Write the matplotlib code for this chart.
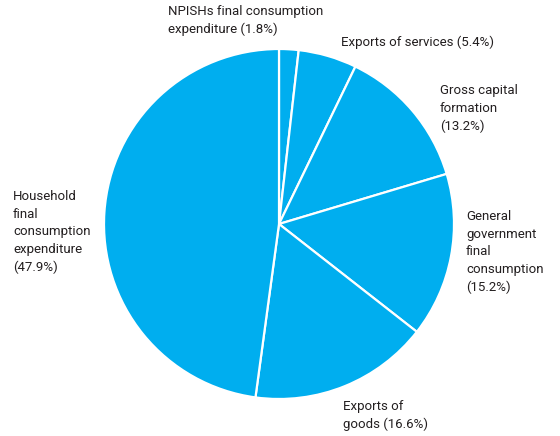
import matplotlib.pyplot as plt

labels = ["NPISHs final consumption\nexpenditure",
          "Exports of services",
          "Gross capital\nformation",
          "General\ngovernment\nfinal\nconsumption",
          "Exports of\ngoods",
          "Household\nfinal\nconsumption\nexpenditure"]
shares = [1.8, 5.4, 13.2, 15.2, 16.6, 47.9]
# percentage goes on its own line for these
pct_newline = [False, False, True, True, False, True]

# where each label's top-left corner sits (pixels from the figure's top-left)
label_px = [(168, 5), (341, 36), (440, 84), (466, 210), (343, 400), (13, 190)]

W, H = 560, 436
cx, cy, r = 279, 224, 175

plt.rcParams['font.family'] = ['Roboto', 'DejaVu Sans']

fig = plt.figure(figsize=(W / 100, H / 100), dpi=100)
ax = fig.add_axes([(cx - r) / W, (H - cy - r) / H, 2 * r / W, 2 * r / H])
ax.pie(shares, startangle=90, counterclock=False, radius=1,
       colors=['#00aeef'] * len(shares),
       wedgeprops=dict(edgecolor='white', linewidth=1.6))
ax.set_xlim(-1, 1)
ax.set_ylim(-1, 1)
ax.set_aspect('equal')
ax.axis('off')

for lab, val, nl, (px, py) in zip(labels, shares, pct_newline, label_px):
    txt = f"{lab}{chr(10) if nl else ' '}({val}%)"
    fig.text(px / W, 1 - py / H, txt, ha='left', va='top',
             fontsize=9.5, color='#231f20', linespacing=1.46)

fig.savefig("out.png", dpi=100)
